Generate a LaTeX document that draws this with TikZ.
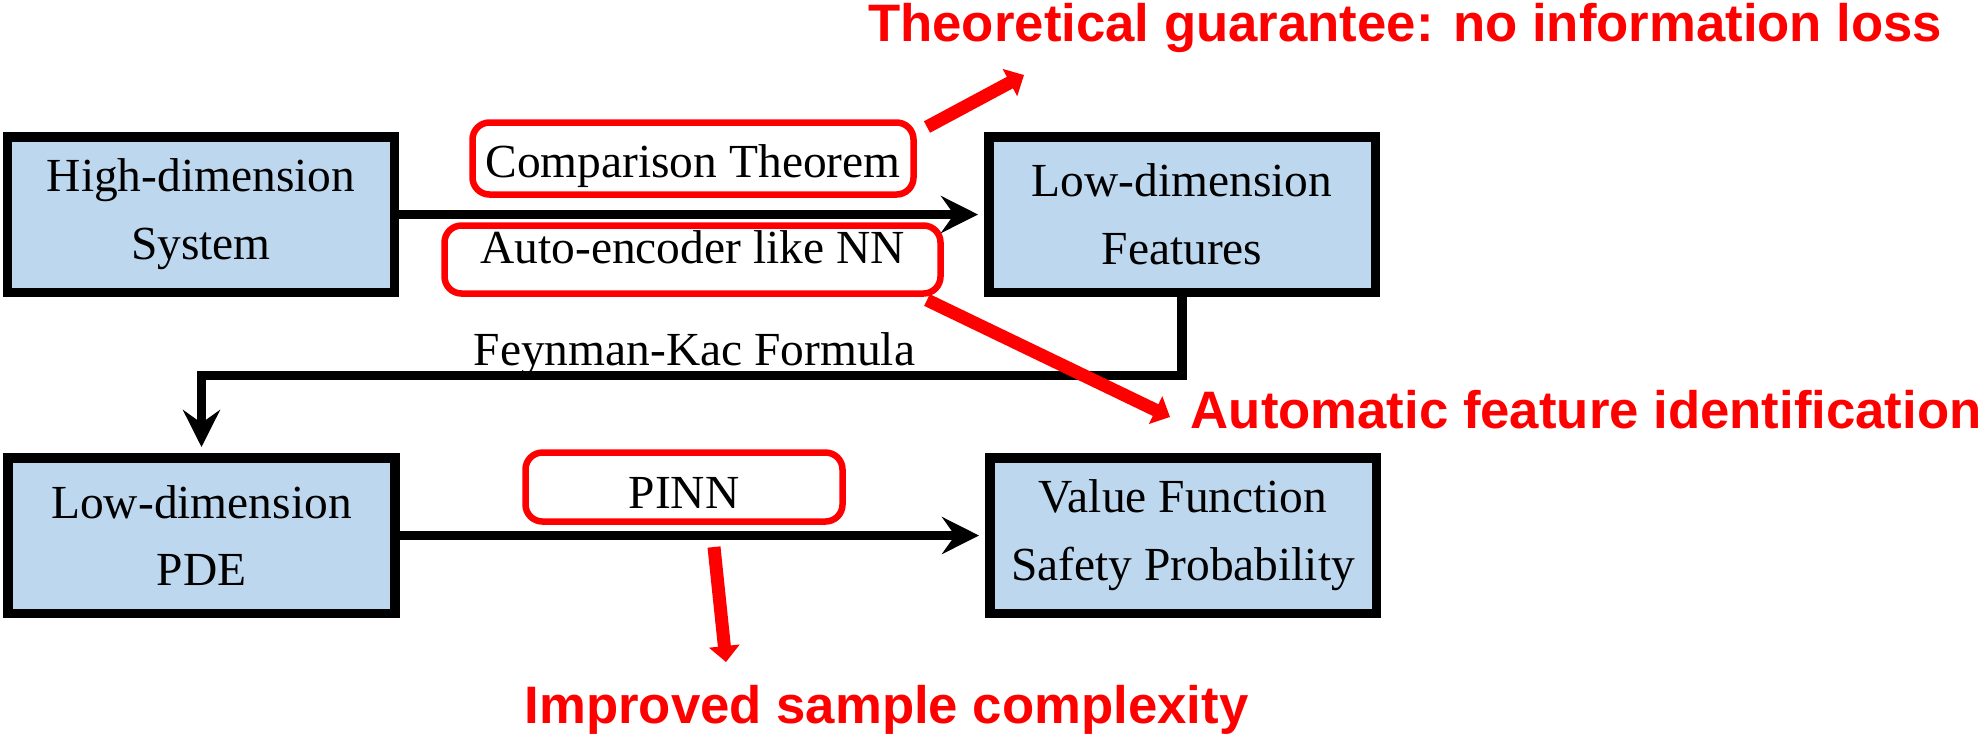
\documentclass[tikz,border=0pt]{standalone}
\usepackage{fontspec}
\setmainfont{Liberation Serif}
\newfontfamily\notefont{Liberation Sans}
\usetikzlibrary{arrows.meta}

\definecolor{boxblue}{HTML}{BDD7EE}

\tikzset{
    block/.style={draw, line width=0.095cm, fill=boxblue, minimum width=3.865cm,
        minimum height=1.555cm, align=center, inner sep=0pt},
    hl/.style={draw=red, line width=0.065cm, rounded corners=0.17cm, inner sep=0pt},
    note/.style={text=red, inner sep=0pt, font=\notefont\bfseries\fontsize{15}{18}\selectfont},
    flow/.style={line width=0.095cm, -{Stealth[length=0.37cm, width=0.37cm, inset=0.13cm]},
        shorten >=0.06cm},
    point/.style={red, line width=0.13cm, -{Triangle[length=0.16cm, width=0.3cm]}},
}

\begin{document}
\begin{tikzpicture}[font=\fontsize{13.5}{19.3}\selectfont]
        \useasboundingbox (0, 0) rectangle (19.87, -7.35);

        \node (hd) at (2.01, -2.145) [block] {High-dimension\\System};
        \node (lf) at (11.82, -2.145) [block] {Low-dimension\\Features};

        \node (lp) at (2.015, -5.355) [block] {Low-dimension\\PDE};
        \node (vf) at (11.83, -5.355) [block] {Value Function\\Safety Probability};

        \node (cmp) at (6.93, -1.585) [hl, minimum width=4.41cm, minimum height=0.72cm,
            text height=0.37cm, text depth=0cm] {Comparison Theorem};
        \node (ae) at (6.925, -2.595) [hl, minimum width=4.96cm, minimum height=0.68cm,
            text height=0.37cm, text depth=0.30cm] {Auto-encoder like NN};
        \node (pinn) at (6.84, -4.87) [hl, minimum width=3.17cm, minimum height=0.69cm,
            text height=0.42cm, text depth=0cm] {PINN};

        \node (fk) at (6.945, -3.65) [anchor=base, inner sep=0pt] {Feynman-Kac Formula};

        \draw[flow] (hd) -- (lf);
        \draw[flow] (lp) -- (vf);

        \coordinate (turn) at (11.82, -3.755);
        \draw[flow] (lf.south) -- (turn) -| (lp.north);

        \node (guar) at (19.43, -0.41) [note, anchor=base east] {Theoretical guarantee: no information loss};
        \node (feat) at (11.9, -4.28) [note, anchor=base west] {Automatic feature identification};
        \node (samp) at (5.24, -7.23) [note, anchor=base west] {Improved sample complexity};

        \coordinate (g0) at (9.27, -1.27);
        \coordinate (g1) at (10.24, -0.75);
        \coordinate (f0) at (9.27, -3.00);
        \coordinate (f1) at (11.70, -4.17);
        \coordinate (s0) at (7.14, -5.47);
        \coordinate (s1) at (7.26, -6.62);

        \draw[point] (g0) -- (g1);
        \draw[point] (f0) -- (f1);
        \draw[point] (s0) -- (s1);

    \end{tikzpicture}
\end{document}
